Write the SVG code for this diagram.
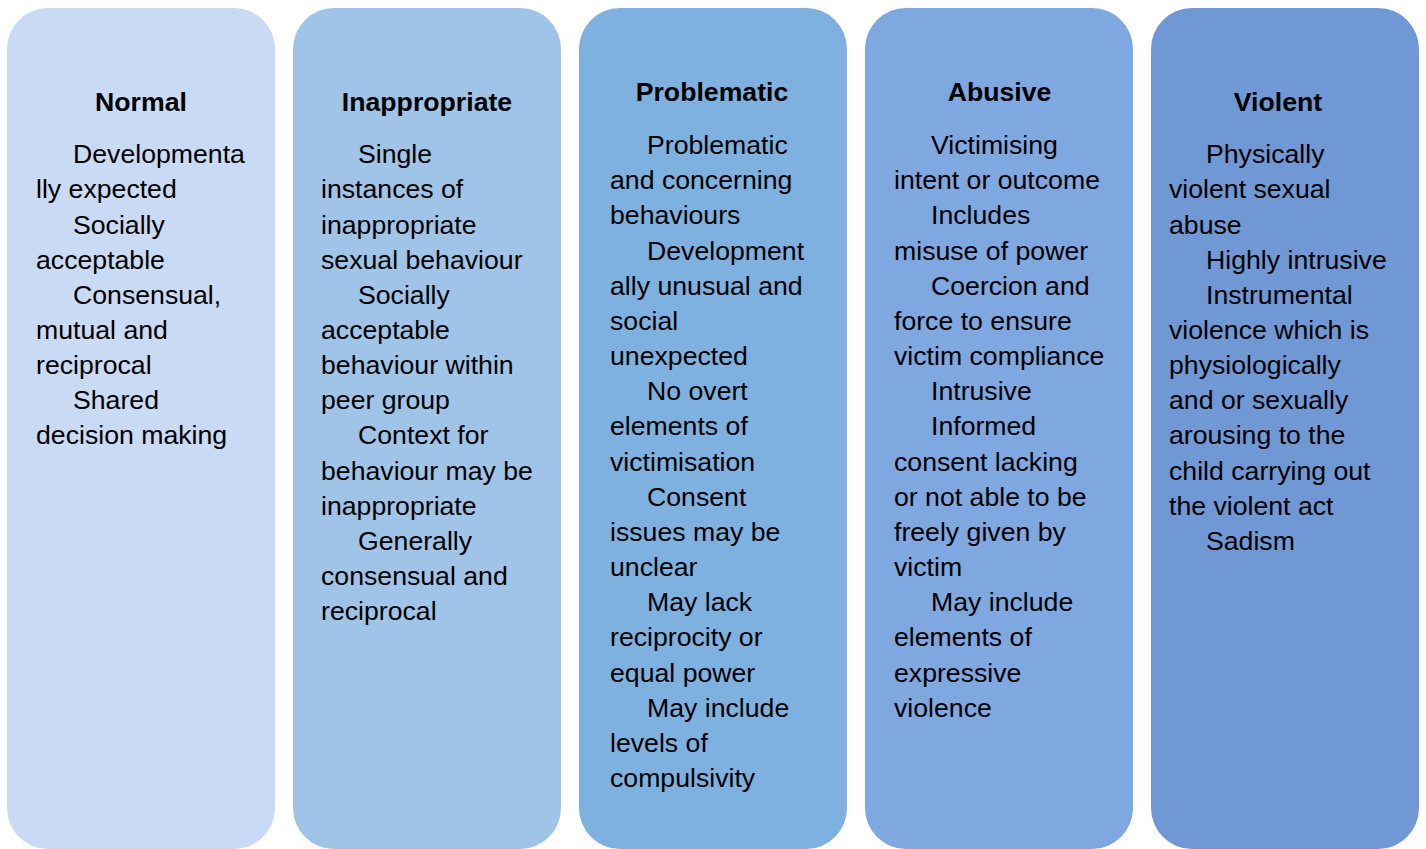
<svg xmlns="http://www.w3.org/2000/svg" width="1426" height="849" viewBox="0 0 1426 849">
<style>
.col{stroke:none}
.t{font-family:"Liberation Sans",Arial,sans-serif;font-size:26.67px;font-weight:bold;fill:#000;text-anchor:middle}
.b{font-family:"Liberation Sans",Arial,sans-serif;font-size:26.67px;fill:#000}
</style>
<rect width="1426" height="849" fill="#fff"/>
<g id="normal">
<rect class="col" x="7" y="8" width="268" height="841" rx="41" fill="#c9daf5"/>
<text class="t" x="141" y="111">Normal</text>
<text class="b" transform="translate(0,1)">
<tspan x="73" y="162">Developmenta</tspan>
<tspan x="36" y="197">lly expected</tspan>
<tspan x="73" y="232.5">Socially</tspan>
<tspan x="36" y="267.5">acceptable</tspan>
<tspan x="73" y="302.5">Consensual,</tspan>
<tspan x="36" y="338">mutual and</tspan>
<tspan x="36" y="373">reciprocal</tspan>
<tspan x="73" y="408">Shared</tspan>
<tspan x="36" y="443">decision making</tspan>
</text>
</g>
<g id="inappropriate">
<rect class="col" x="293" y="8" width="268" height="841" rx="41" fill="#9fc4e8"/>
<text class="t" x="427" y="111">Inappropriate</text>
<text class="b" transform="translate(0,1)">
<tspan x="358" y="162">Single</tspan>
<tspan x="321" y="197">instances of</tspan>
<tspan x="321" y="232.5">inappropriate</tspan>
<tspan x="321" y="267.5">sexual behaviour</tspan>
<tspan x="358" y="302.5">Socially</tspan>
<tspan x="321" y="338">acceptable</tspan>
<tspan x="321" y="373">behaviour within</tspan>
<tspan x="321" y="408">peer group</tspan>
<tspan x="358" y="443">Context for</tspan>
<tspan x="321" y="478.5">behaviour may be</tspan>
<tspan x="321" y="513.5">inappropriate</tspan>
<tspan x="358" y="549">Generally</tspan>
<tspan x="321" y="584">consensual and</tspan>
<tspan x="321" y="619">reciprocal</tspan>
</text>
</g>
<g id="problematic">
<rect class="col" x="579" y="8" width="268" height="841" rx="41" fill="#7eb1df"/>
<text class="t" x="712" y="101">Problematic</text>
<text class="b" transform="translate(0,1)">
<tspan x="647" y="153">Problematic</tspan>
<tspan x="610" y="188">and concerning</tspan>
<tspan x="610" y="223">behaviours</tspan>
<tspan x="647" y="258.5">Development</tspan>
<tspan x="610" y="293.5">ally unusual and</tspan>
<tspan x="610" y="329">social</tspan>
<tspan x="610" y="364">unexpected</tspan>
<tspan x="647" y="399">No overt</tspan>
<tspan x="610" y="434">elements of</tspan>
<tspan x="610" y="469.5">victimisation</tspan>
<tspan x="647" y="504.5">Consent</tspan>
<tspan x="610" y="540">issues may be</tspan>
<tspan x="610" y="575">unclear</tspan>
<tspan x="647" y="610">May lack</tspan>
<tspan x="610" y="645">reciprocity or</tspan>
<tspan x="610" y="680.5">equal power</tspan>
<tspan x="647" y="715.5">May include</tspan>
<tspan x="610" y="751">levels of</tspan>
<tspan x="610" y="786">compulsivity</tspan>
</text>
</g>
<g id="abusive">
<rect class="col" x="865" y="8" width="268" height="841" rx="41" fill="#7fa7e0"/>
<text class="t" x="999.5" y="101">Abusive</text>
<text class="b" transform="translate(0,1)">
<tspan x="931" y="153">Victimising</tspan>
<tspan x="894" y="188">intent or outcome</tspan>
<tspan x="931" y="223">Includes</tspan>
<tspan x="894" y="258.5">misuse of power</tspan>
<tspan x="931" y="293.5">Coercion and</tspan>
<tspan x="894" y="329">force to ensure</tspan>
<tspan x="894" y="364">victim compliance</tspan>
<tspan x="931" y="399">Intrusive</tspan>
<tspan x="931" y="434">Informed</tspan>
<tspan x="894" y="469.5">consent lacking</tspan>
<tspan x="894" y="504.5">or not able to be</tspan>
<tspan x="894" y="540">freely given by</tspan>
<tspan x="894" y="575">victim</tspan>
<tspan x="931" y="610">May include</tspan>
<tspan x="894" y="645">elements of</tspan>
<tspan x="894" y="680.5">expressive</tspan>
<tspan x="894" y="715.5">violence</tspan>
</text>
</g>
<g id="violent">
<rect class="col" x="1151" y="8" width="268" height="841" rx="41" fill="#6f98d5"/>
<text class="t" x="1278" y="111">Violent</text>
<text class="b" transform="translate(0,1)">
<tspan x="1206" y="162">Physically</tspan>
<tspan x="1169" y="197">violent sexual</tspan>
<tspan x="1169" y="232.5">abuse</tspan>
<tspan x="1206" y="267.5">Highly intrusive</tspan>
<tspan x="1206" y="302.5">Instrumental</tspan>
<tspan x="1169" y="338">violence which is</tspan>
<tspan x="1169" y="373">physiologically</tspan>
<tspan x="1169" y="408">and or sexually</tspan>
<tspan x="1169" y="443">arousing to the</tspan>
<tspan x="1169" y="478.5">child carrying out</tspan>
<tspan x="1169" y="513.5">the violent act</tspan>
<tspan x="1206" y="549">Sadism</tspan>
</text>
</g>
<g id="connectors"></g>
</svg>
